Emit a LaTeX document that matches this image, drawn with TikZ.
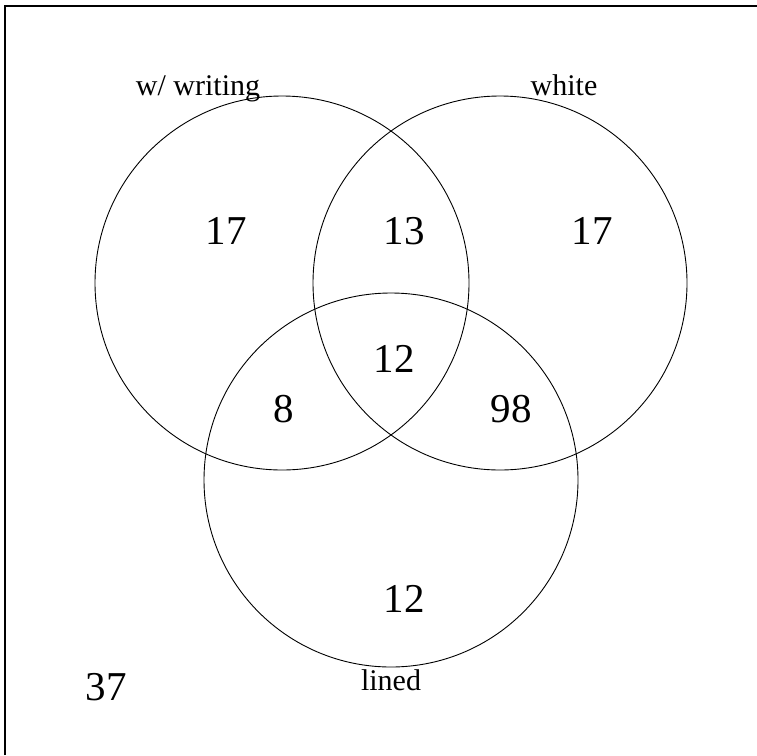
\documentclass[tikz,border=0pt]{standalone}
\usepackage{fontspec}
\setmainfont{Liberation Serif}
\begin{document}
\begin{tikzpicture}[x=1pt,y=-1pt,
  ring/.style={draw=black,line width=0.9pt},
  num/.style={font=\fontsize{41}{41}\selectfont,anchor=base,inner sep=0pt},
  lab/.style={font=\fontsize{30}{30}\selectfont,anchor=base,inner sep=0pt}]
\useasboundingbox (0,0) rectangle (757,755);
\draw[line width=1.5pt] (5,755) -- (5,6) -- (757,6);
\node[ring,circle,minimum size=374pt,inner sep=0pt] (A) at (282,283) {};
\node[ring,circle,minimum size=374pt,inner sep=0pt] (B) at (500,283) {};
\node[ring,circle,minimum size=374pt,inner sep=0pt] (C) at (391,480) {};
\node[lab] (la) at (198,95) {w/ writing};
\node[lab] (lb) at (564,95) {white};
\node[lab] (lc) at (391,690) {lined};
\node[num] (n1) at (226,244) {17};
\node[num] (n2) at (404,244) {13};
\node[num] (n3) at (592,244) {17};
\node[num] (n4) at (394,372) {12};
\node[num] (n5) at (284,422) {8};
\node[num] (n6) at (511,422) {98};
\node[num] (n7) at (404,612) {12};
\node[num] (n8) at (106,700) {37};
\end{tikzpicture}
\end{document}
